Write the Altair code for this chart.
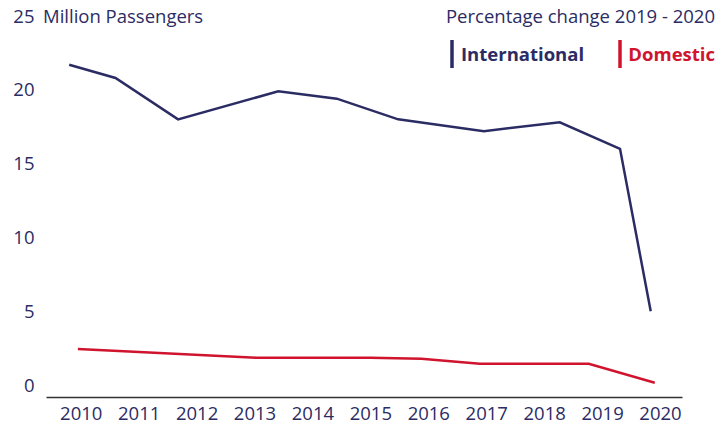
import altair as alt
import pandas as pd

# ---- data ----
intl_year = [2009.80, 2010.60, 2011.68, 2013.41, 2014.42, 2015.48, 2016.96, 2018.27, 2019.31, 2019.84]
intl_value = [21.7, 20.8, 18.0, 19.9, 19.4, 18.0, 17.2, 17.8, 16.0, 5.0]
dom_year = [2009.95, 2013.03, 2015.00, 2015.88, 2016.89, 2018.77, 2019.91]
dom_value = [2.44, 1.85, 1.85, 1.78, 1.44, 1.44, 0.16]
series = ["International", "Domestic"]
tick_years = list(range(2010, 2021))
y_ticks = [0, 5, 10, 15, 20, 25]

NAVY = "#2b2c64"
RED = "#d0142e"
FONT = "Open Sans"
FS = 18.5

df = pd.concat([
    pd.DataFrame({"year": intl_year, "value": intl_value, "series": series[0], "o": range(len(intl_year))}),
    pd.DataFrame({"year": dom_year, "value": dom_value, "series": series[1], "o": range(len(dom_year))}),
])

W, H = 636, 381

lines = alt.Chart(df).mark_line(strokeWidth=2.5, clip=False).encode(
    x=alt.X("year:Q",
            scale=alt.Scale(domain=[2009.40, 2020.38], nice=False, zero=False),
            axis=alt.Axis(values=tick_years, format="d", title=None, ticks=False,
                          grid=False, domainColor="#333333", domainWidth=1.5,
                          labelColor=NAVY, labelFont=FONT, labelFontSize=FS,
                          labelPadding=7, labelFlush=False)),
    y=alt.Y("value:Q",
            scale=alt.Scale(domain=[-0.81, 25], nice=False, zero=False),
            axis=alt.Axis(values=y_ticks, title=None, ticks=False, grid=False,
                          domain=False, labelColor=NAVY, labelFont=FONT,
                          labelFontSize=FS, labelPadding=12, labelFlush=False)),
    color=alt.Color("series:N", scale=alt.Scale(domain=series, range=[NAVY, RED]), legend=None),
    order="o:Q",
    detail="series:N",
)

def txt(t, x, y, color=NAVY, align="left", weight="normal", size=FS):
    return alt.Chart(pd.DataFrame({"t": [t]})).mark_text(
        align=align, baseline="middle", font=FONT, fontSize=size,
        fontWeight=weight, color=color
    ).encode(text="t:N", x=alt.value(x), y=alt.value(y))

def bar(x, color):
    return alt.Chart(pd.DataFrame({"a": [0]})).mark_rule(
        strokeWidth=3.5, color=color
    ).encode(x=alt.value(x), y=alt.value(24), y2=alt.value(52))

chart = alt.layer(
    lines,
    txt("Million Passengers", -3, 1),
    txt("Percentage change 2019 - 2020", 669, 1, align="right"),
    bar(406, NAVY),
    txt("International", 415, 39, weight="bold"),
    bar(574, RED),
    txt("Domestic", 669, 39, color=RED, align="right", weight="bold"),
).properties(
    width=W, height=H,
    autosize=alt.AutoSizeParams(type="none"),
    padding={"left": 38, "top": 8, "right": 34, "bottom": 26},
).configure_view(stroke=None)

chart.save("out.html", embed_options={"renderer": "svg", "actions": False})
